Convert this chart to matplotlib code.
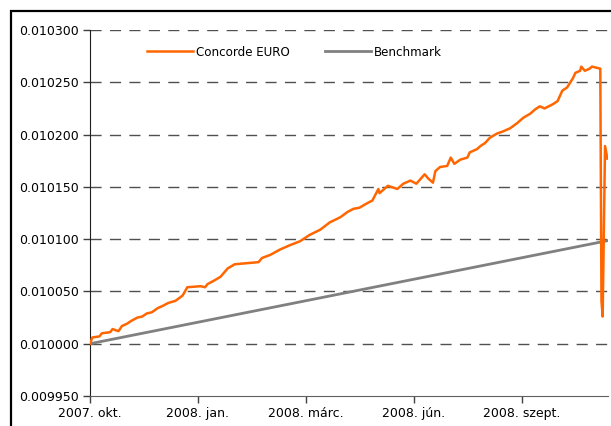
import matplotlib
matplotlib.use('Agg')
import matplotlib.pyplot as plt
from matplotlib.patches import Rectangle
from matplotlib.ticker import FormatStrFormatter

# days since 2007-10-01 and net asset value
fund_days = [0, 2, 8, 10, 17, 19, 24, 27, 31, 35, 40, 44, 48, 52, 57, 61, 66, 72,
             78, 82, 93, 97, 99, 104, 110, 116, 122, 142, 145, 152, 160, 168, 177,
             185, 194, 202, 211, 217, 222, 227, 233, 238, 243, 244, 251, 259, 264,
             270, 275, 282, 285, 289, 291, 295, 301, 304, 307, 312, 318, 320, 326,
             329, 333, 337, 343, 348, 354, 360, 365, 371, 375, 379, 383, 390, 394,
             398, 402, 407, 409, 413, 414, 417, 421, 423, 430, 431, 432, 434, 436]
fund_values = [0.010000, 0.010006, 0.010007, 0.010010, 0.010011, 0.010014, 0.010012,
               0.010017, 0.010019, 0.010022, 0.010025, 0.010026, 0.010029, 0.010030,
               0.010034, 0.010036, 0.010039, 0.010041, 0.010046, 0.010054, 0.010055,
               0.010054, 0.010057, 0.010060, 0.010064, 0.010072, 0.010076, 0.010078,
               0.010082, 0.010085, 0.010090, 0.010094, 0.010098, 0.010104, 0.010109,
               0.010116, 0.010121, 0.010126, 0.010129, 0.010130, 0.010134, 0.010137,
               0.010148, 0.010144, 0.010151, 0.010148, 0.010153, 0.010156, 0.010153,
               0.010162, 0.010158, 0.010154, 0.010165, 0.010169, 0.010170, 0.010178,
               0.010172, 0.010176, 0.010178, 0.010183, 0.010186, 0.010189, 0.010192,
               0.010197, 0.010201, 0.010203, 0.010206, 0.010211, 0.010216, 0.010220,
               0.010224, 0.010227, 0.010225, 0.010229, 0.010232, 0.010242, 0.010245,
               0.010254, 0.010259, 0.010261, 0.010265, 0.010261, 0.010263, 0.010265,
               0.010263, 0.010041, 0.010026, 0.010189, 0.010177]

bench_days = [0, 436]
bench_values = [0.010000, 0.0100985]

tick_days = [0, 91, 182, 273, 364]
tick_labels = ['2007. okt.', '2008. jan.', '2008. márc.', '2008. jún.', '2008. szept.']

W, H = 611, 426

fig = plt.figure(figsize=(W / 100, H / 100), dpi=100)
plt.rcParams['font.family'] = 'DejaVu Sans'

# outer chart frame, cut by the image edge on the right and bottom
fig.patches.append(Rectangle((10.5 / W, -0.1), 2.0, 1.1 - 10.5 / H, transform=fig.transFigure,
                             fill=False, edgecolor='black', linewidth=1.6))

ax = fig.add_axes([90 / W, 30 / H, 518 / W, 366 / H])
ax.plot(bench_days, bench_values, color='#808080', linewidth=2.0, label='Benchmark', zorder=3)
ax.plot(fund_days, fund_values, color='#FF6600', linewidth=1.8, label='Concorde EURO', zorder=4)

ax.set_xlim(0, 436.5)
ax.set_ylim(0.00995, 0.0103)
ax.set_yticks([0.00995 + i * 0.00005 for i in range(8)])
ax.yaxis.set_major_formatter(FormatStrFormatter('%.6f'))
ax.set_xticks(tick_days)
ax.set_xticklabels(tick_labels)
ax.tick_params(axis='both', labelsize=9, length=5, width=1, color='#404040', pad=3)

for v in ax.get_yticks()[1:]:
    ax.axhline(v, color='#505050', linewidth=1, dashes=(8, 6), zorder=1)

for side in ['top', 'right']:
    ax.spines[side].set_visible(False)
ax.spines['left'].set_color('#202020')
ax.spines['bottom'].set_color('#606060')

handles, labels = ax.get_legend_handles_labels()
ax.legend(handles[::-1], labels[::-1], ncol=2, frameon=False, fontsize=8.6,
          loc='center left', bbox_to_anchor=(136 / W, 1 - 52 / H), bbox_transform=fig.transFigure,
          handlelength=3.9, handletextpad=0.25, columnspacing=2.9)

fig.savefig('out.png', dpi=100)
